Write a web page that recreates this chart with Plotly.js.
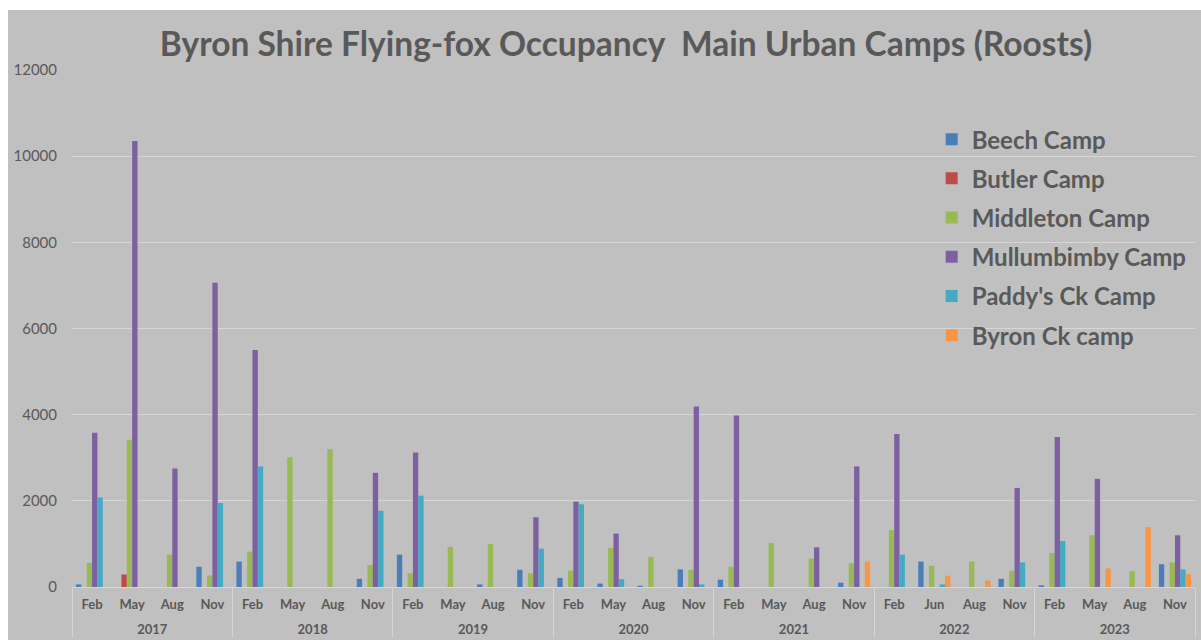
<!DOCTYPE html>
<html>
<head>
<meta charset="utf-8">
<script src="https://cdn.plot.ly/plotly-3.0.1.min.js"></script>
<style>
html,body{margin:0;padding:0;background:#ffffff;}
#chart{position:absolute;left:8px;top:10px;width:1193px;height:630px;}
</style>
</head>
<body>
<div id="chart"></div>
<script>
const years = ["2017","2017","2017","2017","2018","2018","2018","2018","2019","2019","2019","2019",
  "2020","2020","2020","2020","2021","2021","2021","2021","2022","2022","2022","2022","2023","2023","2023","2023"];
const months = ["Feb","May","Aug","Nov","Feb","May","Aug","Nov","Feb","May","Aug","Nov",
  "Feb","May","Aug","Nov","Feb","May","Aug","Nov","Feb","Jun","Aug","Nov","Feb","May","Aug","Nov"];
const monthOrder = ["Feb","May","Jun","Aug","Nov"];

const beechCamp = [60,0,0,470, 590,0,0,190, 750,0,60,400, 210,80,30,410, 170,0,0,100, 0,590,0,190, 40,0,0,530];
const butlerCamp = [0,290,0,0, 0,0,0,0, 0,0,0,0, 0,0,0,0, 0,0,0,0, 0,0,0,0, 0,0,0,0];
const middletonCamp = [560,3420,750,270, 820,3010,3200,510, 320,930,1000,320, 380,910,700,400, 470,1020,660,550, 1320,490,590,380, 790,1200,370,570];
const mullumbimbyCamp = [3580,10350,2750,7060, 5500,0,0,2650, 3120,0,0,1620, 1980,1240,0,4190, 3980,0,920,2800, 3550,0,0,2300, 3480,2510,0,1200];
const paddysCkCamp = [2080,0,0,1950, 2800,0,0,1770, 2120,0,0,890, 1920,180,0,60, 0,0,0,0, 750,60,0,570, 1070,0,0,410];
const byronCkCamp = [0,0,0,0, 0,0,0,0, 0,0,0,0, 0,0,0,0, 0,0,0,590, 0,260,150,0, 0,430,1390,300];

const seriesNames = ["Beech Camp","Butler Camp","Middleton Camp","Mullumbimby Camp","Paddy's Ck Camp","Byron Ck camp"];
const seriesValues = [beechCamp, butlerCamp, middletonCamp, mullumbimbyCamp, paddysCkCamp, byronCkCamp];
const seriesColors = ["#4a7ebb","#be4b48","#98b954","#7d60a0","#46aac5","#f79646"];

const textColor = "#595959";
const fontFam = "Lato, 'Open Sans', sans-serif";

// Feed the points month-first so Plotly's multicategory axis learns the
// sub-category order Feb, May, Jun, Aug, Nov (and years 2017..2023).
const idx = years.map((_, i) => i).sort((a, b) => {
  const d = monthOrder.indexOf(months[a]) - monthOrder.indexOf(months[b]);
  return d !== 0 ? d : a - b;
});
// second line (tiny) widens the gap between the month row and the year row
const monthLabel = m => m + "<br><span style='font-size:3px'> </span>";
const xYears = idx.map(i => years[i]);
const xMonths = idx.map(i => monthLabel(months[i]));

const traces = seriesNames.map((name, s) => ({
  type: "bar",
  name: name,
  x: [xYears, xMonths],
  y: idx.map(i => seriesValues[s][i]),
  marker: {color: seriesColors[s], line: {width: 0}},
  legendgroup: "g" + s,
  hoverinfo: "skip"
}));

const layout = {
  width: 1193,
  height: 630,
  paper_bgcolor: "#c0c0c0",
  plot_bgcolor: "#c0c0c0",
  margin: {l: 64, r: 6, t: 60, b: 53},
  bargap: 0.2,
  bargroupgap: 0,
  barmode: "group",
  title: {
    text: "<b>Byron Shire Flying-fox Occupancy  Main Urban Camps (Roosts)</b>",
    font: {family: fontFam, size: 33.5, color: textColor},
    x: 0.518, xanchor: "center", xref: "container",
    y: 0.946, yanchor: "middle", yref: "container"
  },
  xaxis: {
    type: "multicategory",
    showgrid: false,
    showline: false,
    zeroline: false,
    ticks: "",
    showdividers: true,
    dividercolor: "#d6d6d6",
    dividerwidth: 1,
    ticklabelstandoff: 8,
    tickfont: {family: fontFam, size: 13, color: textColor, weight: "bold"},
    fixedrange: true
  },
  yaxis: {
    range: [0, 12000],
    tickvals: [0,2000,4000,6000,8000,10000,12000],
    ticktext: ["0","2000","4000","6000","8000","10000","12000"],
    showgrid: true,
    gridcolor: "#d6d6d6",
    gridwidth: 1,
    zeroline: true,
    zerolinecolor: "#d6d6d6",
    zerolinewidth: 1,
    showline: false,
    ticks: "",
    ticklabelstandoff: 14,
    tickfont: {family: fontFam, size: 15, color: textColor},
    fixedrange: true
  },
  legend: {
    x: 0.7655, xanchor: "left", xref: "paper",
    y: 0.909, yanchor: "top", yref: "paper",
    bgcolor: "rgba(0,0,0,0)",
    font: {family: fontFam, size: 24, color: textColor, weight: "bold"},
    traceorder: "grouped",
    tracegroupgap: 5,
    itemclick: false,
    itemdoubleclick: false
  },
  showlegend: true
};

Plotly.newPlot("chart", traces, layout, {displayModeBar: false, staticPlot: true});
</script>
</body>
</html>
